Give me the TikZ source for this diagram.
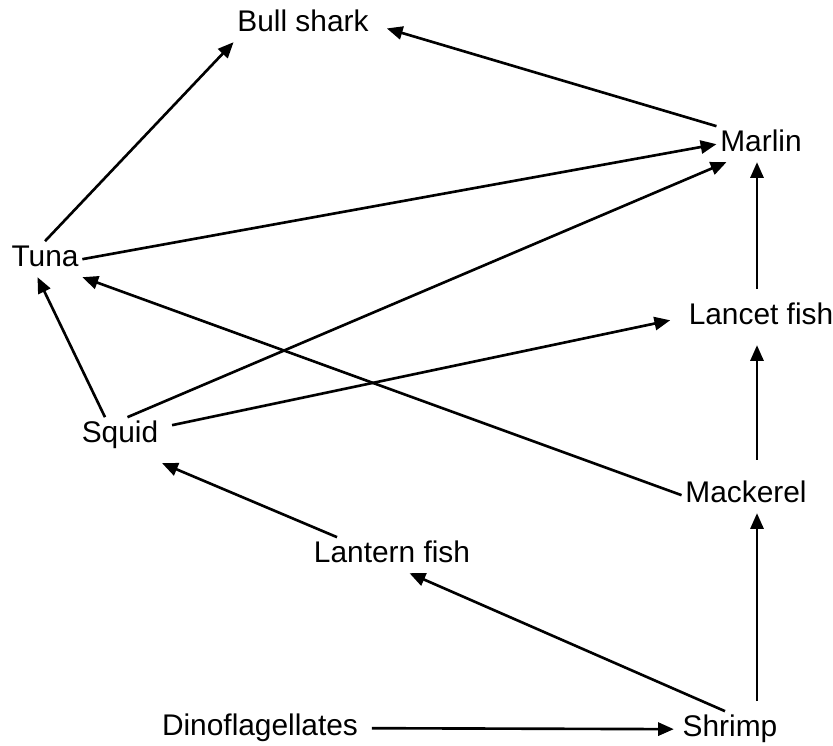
\documentclass[tikz,border=0pt]{standalone}
\usepackage{fontspec}
\setmainfont{Liberation Sans}
\usetikzlibrary{arrows.meta,calc}

\begin{document}
\begin{tikzpicture}[x=0.02cm,y=-0.02cm,
  species/.style={anchor=base,inner sep=2pt,text height=12.5pt,text depth=3.6pt,font=\fontsize{17}{20}\selectfont},
  eats/.style={-{Triangle[length=9pt,width=7.5pt]},line width=1.5pt}]
  \useasboundingbox (0,0) rectangle (833,746);
  % species
  \node[species] (bull) at (303,32) {Bull shark};
  \node[species] (marlin) at (761,152) {Marlin};
  \node[species] (tuna) at (45,267) {Tuna};
  \node[species] (lancet) at (761,325) {Lancet fish};
  \node[species] (squid) at (120,443) {Squid};
  \node[species] (mackerel) at (746,503) {Mackerel};
  \node[species] (lantern) at (392,563) {Lantern fish};
  \node[species] (dino) at (260,736) {Dinoflagellates};
  \node[species] (shrimp) at (730,737) {Shrimp};
  \coordinate (col) at (757,0);
  % who eats whom
  \draw[eats] (tuna.north) -- (bull.south west);
  \draw[eats,shorten >=0.3cm] (marlin.north west) -- (bull.east);
  \draw[eats] (tuna.east) -- (marlin.west);
  \draw[eats] ([xshift=-0.3cm]squid.north) -- ([xshift=-0.15cm]tuna.south);
  \draw[eats] ([xshift=0.15cm]squid.north) -- ([xshift=0.2cm]marlin.south west);
  \draw[eats,shorten >=0.3cm] ([shift={(0.2cm,0.2cm)}]squid.east) -- (lancet.west);
  \draw[eats] (mackerel.west) -- (tuna.south east);
  \draw[eats,shorten <=0.2cm] (lancet.north -| col) -- (marlin.south -| col);
  \draw[eats,shorten <=0.35cm,shorten >=0.2cm] (mackerel.north -| col) -- (lancet.south -| col);
  \draw[eats,shorten <=0.2cm] (shrimp.north -| col) -- (mackerel.south -| col);
  \draw[eats] ([xshift=-1.1cm]lantern.north) -- ([yshift=-0.2cm]squid.south east);
  \draw[eats] ([xshift=-0.1cm]shrimp.north) -- ([xshift=0.35cm]lantern.south);
  \draw[eats,shorten <=0.2cm,shorten >=0.1cm] (dino.east) -- (shrimp.west);
\end{tikzpicture}
\end{document}
